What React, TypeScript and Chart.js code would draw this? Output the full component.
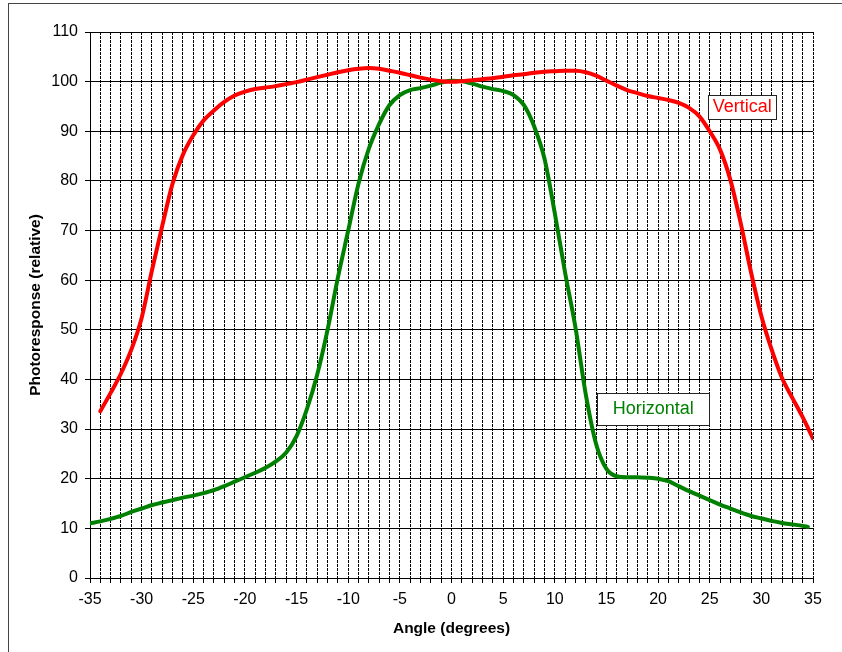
import React, { useEffect, useRef } from 'react';
import { Chart, registerables } from 'chart.js';

Chart.register(...registerables);

// Angle (degrees) for each series
const vertAngles = [
  -34, -33, -32, -31, -30, -29, -28, -27, -26, -25, -24, -23, -22, -21, -20, -19, -18, -17, -16, -15,
  -14, -13, -12, -11, -10, -9, -8, -7, -6, -5, -4, -3, -2, -1, 0, 1, 2, 3, 4, 5,
  6, 7, 8, 9, 10, 11, 12, 13, 14, 15, 16, 17, 18, 19, 20, 21, 22, 23, 24, 25,
  26, 27, 28, 29, 30, 31, 32, 33, 34, 35,
];
const vertValues = [
  33.6, 37.3, 41.2, 46.0, 52.4, 62.0, 71.0, 79.5, 85.3, 89.2, 92.2, 94.2, 95.9, 97.2, 98.0, 98.5, 98.8, 99.1, 99.5, 99.9,
  100.4, 100.9, 101.4, 101.9, 102.3, 102.6, 102.75, 102.6, 102.2, 101.8, 101.3, 100.8, 100.4, 100.1, 100.0, 100.1, 100.3, 100.5, 100.7, 101.0,
  101.3, 101.5, 101.8, 102.0, 102.1, 102.2, 102.2, 101.9, 101.2, 100.2, 99.2, 98.3, 97.7, 97.1, 96.7, 96.3, 95.7, 94.7, 93.0, 90.0,
  86.3, 80.2, 71.5, 61.6, 52.8, 46.0, 40.3, 36.3, 32.4, 28.1,
];

const horizAngles = [
  -35, -34, -33, -32, -31, -30, -29, -28, -27, -26, -25, -24, -23, -22, -21, -20, -19, -18, -17, -16,
  -15, -14, -13, -12, -11, -10, -9, -8, -7, -6, -5, -4, -3, -2, -1, 0, 1, 2, 3, 4,
  5, 6, 7, 8, 9, 10, 11, 12, 13, 14, 15, 16, 17, 18, 19, 20, 21, 22, 23, 24,
  25, 26, 27, 28, 29, 30, 31, 32, 33, 34, 34.5,
];
const horizValues = [
  11.0, 11.4, 11.9, 12.5, 13.3, 14.0, 14.7, 15.2, 15.7, 16.2, 16.6, 17.1, 17.7, 18.5, 19.4, 20.3, 21.2, 22.2, 23.5, 25.3,
  28.6, 34.0, 41.0, 50.0, 60.5, 70.0, 79.5, 86.5, 91.5, 95.3, 97.3, 98.3, 98.7, 99.2, 99.8, 100.2, 100.1, 99.6, 99.0, 98.5,
  98.1, 97.3, 95.3, 91.0, 84.5, 73.5, 61.5, 50.5, 37.0, 27.0, 22.0, 20.5, 20.3, 20.3, 20.2, 20.0, 19.5, 18.5, 17.5, 16.6,
  15.7, 14.8, 14.0, 13.2, 12.5, 12.0, 11.5, 11.1, 10.8, 10.5, 10.3,
];

const seriesNames = ['Vertical', 'Horizontal'];
const xMin = -35;
const xMax = 35;
const yMin = 0;
const yMax = 110;
const xTitle = 'Angle (degrees)';
const yTitle = 'Photoresponse (relative)';

const RED = '#FF0000';
const GREEN = '#008000';

// In-chart labels (data-coordinate anchors)
const boxLabels = [
  { text: seriesNames[0], x: 28.14, y: 94.85, color: RED, padX: 4.5, padY: 3 },
  { text: seriesNames[1], x: 19.53, y: 34.07, color: GREEN, padX: 15.5, padY: 7 },
];

const labelPlugin = {
  id: 'boxLabels',
  afterDatasetsDraw(chart: any) {
    const { ctx } = chart;
    const xs = chart.scales.x;
    const ys = chart.scales.y;
    ctx.save();
    ctx.font = '18px "Liberation Sans", Arial, sans-serif';
    for (const a of boxLabels) {
      const cx = xs.getPixelForValue(a.x);
      const cy = ys.getPixelForValue(a.y);
      const tw = ctx.measureText(a.text).width;
      const w = Math.round(tw + a.padX * 2);
      const h = Math.round(18 + a.padY * 2);
      const left = Math.round(cx - w / 2) + 0.5;
      const top = Math.round(cy - h / 2) + 0.5;
      ctx.fillStyle = '#ffffff';
      ctx.fillRect(left, top, w, h);
      ctx.strokeStyle = '#222222';
      ctx.lineWidth = 1;
      ctx.strokeRect(left, top, w, h);
      ctx.fillStyle = a.color;
      ctx.textAlign = 'center';
      ctx.textBaseline = 'middle';
      ctx.fillText(a.text, cx, cy);
    }
    ctx.restore();
  },
};

export default function App() {
  const ref = useRef<HTMLCanvasElement>(null);

  useEffect(() => {
    const canvas = ref.current;
    if (!canvas) return;
    const tickFont = { family: '"Liberation Sans", Arial, sans-serif', size: 16 };
    const titleFont = { family: '"Liberation Sans", Arial, sans-serif', size: 15.5, weight: 'bold' as const };
    const chart = new Chart(canvas, {
      type: 'line',
      data: {
        datasets: [
          {
            label: seriesNames[0],
            data: vertAngles.map((a, i) => ({ x: a, y: vertValues[i] })),
            borderColor: RED,
            backgroundColor: RED,
            borderWidth: 4,
            cubicInterpolationMode: 'monotone',
            pointRadius: 0,
            borderCapStyle: 'round',
            borderJoinStyle: 'round',
            fill: false,
          },
          {
            label: seriesNames[1],
            data: horizAngles.map((a, i) => ({ x: a, y: horizValues[i] })),
            borderColor: GREEN,
            backgroundColor: GREEN,
            borderWidth: 4,
            cubicInterpolationMode: 'monotone',
            pointRadius: 0,
            borderCapStyle: 'round',
            borderJoinStyle: 'round',
            fill: false,
          },
        ],
      },
      options: {
        animation: false,
        responsive: false,
        devicePixelRatio: 1,
        layout: { padding: { left: 0, right: 29, top: 28, bottom: 0 } },
        plugins: {
          legend: { display: false },
          tooltip: { enabled: false },
        },
        scales: {
          x: {
            type: 'linear',
            min: xMin,
            max: xMax,
            afterFit: (s: any) => {
              s.height = 74;
            },
            ticks: {
              stepSize: 1,
              autoSkip: false,
              maxRotation: 0,
              color: '#000',
              font: tickFont,
              padding: 7,
              callback: (v: any) => (Math.abs(Number(v) % 5) < 1e-6 ? String(Math.round(Number(v))) : ''),
            },
            grid: {
              color: '#000',
              lineWidth: 1,
              tickLength: 5,
              tickColor: '#000',
              tickBorderDash: [],
            },
            border: { display: true, color: '#000', width: 1, dash: [3, 1] },
            title: {
              display: true,
              text: xTitle,
              color: '#000',
              font: titleFont,
              padding: { top: 0, bottom: 14 },
            },
          },
          y: {
            type: 'linear',
            min: yMin,
            max: yMax,
            afterFit: (s: any) => {
              s.width = 81;
            },
            ticks: {
              stepSize: 10,
              color: '#000',
              font: tickFont,
              padding: 7,
            },
            grid: {
              color: '#000',
              lineWidth: 1,
              tickLength: 5,
              tickColor: '#000',
            },
            border: { display: true, color: '#000', width: 1 },
            title: {
              display: true,
              text: yTitle,
              color: '#000',
              font: titleFont,
              padding: { top: 17, bottom: 0 },
            },
          },
        },
      },
      plugins: [labelPlugin],
    } as any);
    return () => chart.destroy();
  }, []);

  return (
    <div
      style={{
        position: 'absolute',
        left: 8,
        top: 3,
        width: 834,
        height: 649,
        borderLeft: '1px solid #444',
        borderTop: '1px solid #444',
        boxSizing: 'border-box',
        background: '#fff',
      }}
    >
      <canvas ref={ref} width={833} height={648} style={{ display: 'block', width: 833, height: 648 }} />
    </div>
  );
}
